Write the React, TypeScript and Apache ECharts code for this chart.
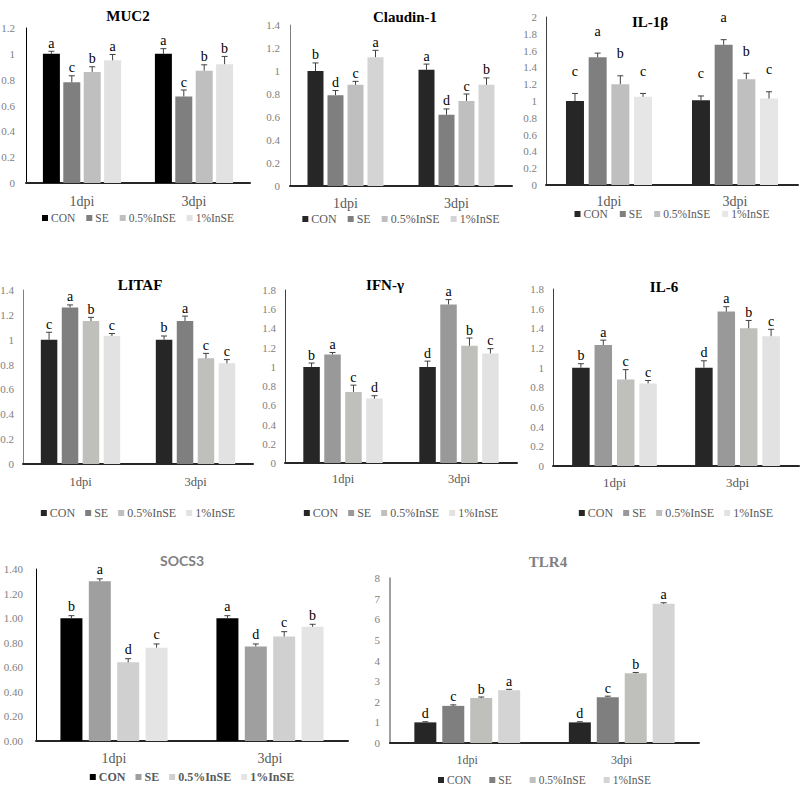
import React, { useEffect, useRef } from 'react';
import * as echarts from 'echarts';

// ---------- data ----------
const categories = ['1dpi', '3dpi'];
const groups = ['CON', 'SE', '0.5%InSE', '1%InSE'];

// each row = one group, columns = [1dpi, 3dpi]
const muc2Means = [[1.0, 1.0], [0.78, 0.67], [0.86, 0.87], [0.95, 0.92]];
const muc2Errors = [[0.02, 0.04], [0.05, 0.05], [0.04, 0.045], [0.045, 0.06]];
const muc2Letters = [['a', 'a'], ['c', 'c'], ['b', 'b'], ['a', 'b']];

const claudinMeans = [[1.0, 1.01], [0.79, 0.62], [0.88, 0.74], [1.12, 0.88]];
const claudinErrors = [[0.07, 0.05], [0.04, 0.05], [0.03, 0.06], [0.06, 0.06]];
const claudinLetters = [['b', 'a'], ['d', 'd'], ['c', 'c'], ['a', 'b']];

const il1bMeans = [[1.0, 1.01], [1.52, 1.67], [1.2, 1.26], [1.05, 1.03]];
const il1bErrors = [[0.09, 0.05], [0.05, 0.06], [0.1, 0.07], [0.04, 0.08]];
const il1bLetters = [['c', 'c'], ['a', 'a'], ['b', 'b'], ['c', 'c']];

const litafMeans = [[1.0, 1.0], [1.26, 1.15], [1.15, 0.85], [1.03, 0.81]];
const litafErrors = [[0.06, 0.03], [0.02, 0.04], [0.03, 0.04], [0.02, 0.03]];
const litafLetters = [['c', 'b'], ['a', 'a'], ['b', 'c'], ['c', 'c']];

const ifngMeans = [[1.0, 1.0], [1.13, 1.65], [0.74, 1.22], [0.67, 1.14]];
const ifngErrors = [[0.04, 0.06], [0.02, 0.05], [0.07, 0.08], [0.03, 0.05]];
const ifngLetters = [['b', 'd'], ['a', 'a'], ['c', 'b'], ['d', 'c']];

const il6Means = [[1.0, 1.0], [1.23, 1.57], [0.88, 1.4], [0.84, 1.32]];
const il6Errors = [[0.04, 0.07], [0.05, 0.05], [0.1, 0.08], [0.03, 0.07]];
const il6Letters = [['b', 'd'], ['a', 'a'], ['c', 'b'], ['c', 'c']];

const socs3Means = [[1.0, 1.0], [1.3, 0.77], [0.64, 0.85], [0.76, 0.93]];
const socs3Errors = [[0.02, 0.02], [0.02, 0.02], [0.03, 0.04], [0.03, 0.02]];
const socs3Letters = [['b', 'a'], ['a', 'd'], ['d', 'c'], ['c', 'b']];

const tlr4Means = [[1.0, 1.0], [1.8, 2.22], [2.18, 3.38], [2.56, 6.75]];
const tlr4Errors = [[0.03, 0.03], [0.05, 0.05], [0.05, 0.04], [0.04, 0.05]];
const tlr4Letters = [['d', 'd'], ['c', 'c'], ['b', 'b'], ['a', 'a']];

// ---------- layout / style ----------
const SERIF = 'Liberation Serif';
const SANS = 'Lato';

type Panel = {
  title: string;
  means: number[][];
  errors: number[][];
  letters: string[][];
  colors: string[];
  yMax: number;
  yInterval: number;
  decimals?: number;
  // absolute page coordinates
  gx: number; gy: number; gw: number; gh: number;
  titleX: number; titleY: number;
  legendY: number;
  titleColor: string;
  titleFont: string;
  titleSize: number;
  barWidth: number;
  barGap: number;
  letterGap: number;
  catMargin: number;
  catSize: number;
  legendSize: number;
  legendGap: number;
  legendBold?: boolean;
  yLabelMargin: number;
  yAxisColor: string;
  yAxisWidth: number;
};

const panels: Panel[] = [
  {
    title: 'MUC2', means: muc2Means, errors: muc2Errors, letters: muc2Letters,
    colors: ['#000000', '#7f7f7f', '#bfbfbf', '#e2e2e2'],
    yMax: 1.2, yInterval: 0.2,
    gx: 26, gy: 28, gw: 224, gh: 155, titleX: 128, titleY: 17, legendY: 212,
    titleColor: '#000', titleFont: SERIF, titleSize: 15,
    barWidth: 17, barGap: 0.2, letterGap: 1, catMargin: 11, catSize: 14,
    legendSize: 11.5, legendGap: 11, yLabelMargin: 11, yAxisColor: '#000', yAxisWidth: 1,
  },
  {
    title: 'Claudin-1', means: claudinMeans, errors: claudinErrors, letters: claudinLetters,
    colors: ['#262626', '#7f7f7f', '#bfbfbf', '#d4d4d4'],
    yMax: 1.4, yInterval: 0.2,
    gx: 290, gy: 25, gw: 222, gh: 161, titleX: 405, titleY: 18, legendY: 213,
    titleColor: '#000', titleFont: SERIF, titleSize: 15,
    barWidth: 16, barGap: 0.25, letterGap: 1, catMargin: 10, catSize: 14,
    legendSize: 12, legendGap: 11, yLabelMargin: 10, yAxisColor: '#808080', yAxisWidth: 1,
  },
  {
    title: 'IL-1β', means: il1bMeans, errors: il1bErrors, letters: il1bLetters,
    colors: ['#262626', '#7f7f7f', '#bfbfbf', '#e6e6e6'],
    yMax: 2, yInterval: 0.2,
    gx: 546, gy: 17, gw: 252, gh: 168, titleX: 650, titleY: 23, legendY: 208,
    titleColor: '#000', titleFont: SERIF, titleSize: 15,
    barWidth: 18, barGap: 0.26, letterGap: 15, catMargin: 9, catSize: 14,
    legendSize: 11.5, legendGap: 12, yLabelMargin: 9, yAxisColor: '#404040', yAxisWidth: 1,
  },
  {
    title: 'LITAF', means: litafMeans, errors: litafErrors, letters: litafLetters,
    colors: ['#262626', '#7f7f7f', '#bfbfbc', '#e2e2e2'],
    yMax: 1.4, yInterval: 0.2,
    gx: 23, gy: 290, gw: 230, gh: 174, titleX: 140, titleY: 286, legendY: 507,
    titleColor: '#000', titleFont: SERIF, titleSize: 15,
    barWidth: 16.5, barGap: 0.27, letterGap: 1, catMargin: 11, catSize: 12.5,
    legendSize: 12, legendGap: 10, yLabelMargin: 9, yAxisColor: '#808080', yAxisWidth: 1,
  },
  {
    title: 'IFN-γ', means: ifngMeans, errors: ifngErrors, letters: ifngLetters,
    colors: ['#262626', '#999999', '#bfbfbc', '#e2e2e2'],
    yMax: 1.8, yInterval: 0.2,
    gx: 285, gy: 290, gw: 232, gh: 173, titleX: 385, titleY: 286, legendY: 507,
    titleColor: '#000', titleFont: SERIF, titleSize: 15,
    barWidth: 16.5, barGap: 0.27, letterGap: 1, catMargin: 9, catSize: 12.5,
    legendSize: 12, legendGap: 10, yLabelMargin: 9, yAxisColor: '#404040', yAxisWidth: 1,
  },
  {
    title: 'IL-6', means: il6Means, errors: il6Errors, letters: il6Letters,
    colors: ['#262626', '#999999', '#bfbfbc', '#e2e2e2'],
    yMax: 1.8, yInterval: 0.2,
    gx: 553, gy: 289, gw: 246, gh: 177, titleX: 664, titleY: 288, legendY: 507,
    titleColor: '#000', titleFont: SERIF, titleSize: 15,
    barWidth: 17.5, barGap: 0.28, letterGap: 1, catMargin: 10, catSize: 13,
    legendSize: 12, legendGap: 10, yLabelMargin: 9, yAxisColor: '#404040', yAxisWidth: 1,
  },
  {
    title: 'SOCS3', means: socs3Means, errors: socs3Errors, letters: socs3Letters,
    colors: ['#000000', '#9f9f9f', '#d0d0d0', '#e4e4e4'],
    yMax: 1.4, yInterval: 0.2, decimals: 2,
    gx: 36, gy: 569, gw: 312, gh: 172, titleX: 182, titleY: 562, legendY: 771,
    titleColor: '#7f7f7f', titleFont: SANS, titleSize: 14,
    barWidth: 22, barGap: 0.29, letterGap: 2, catMargin: 10, catSize: 14,
    legendSize: 12, legendGap: 10, legendBold: true, yLabelMargin: 13, yAxisColor: '#000', yAxisWidth: 1,
  },
  {
    title: 'TLR4', means: tlr4Means, errors: tlr4Errors, letters: tlr4Letters,
    colors: ['#262626', '#7f7f7f', '#bfbfbc', '#d4d4d4'],
    yMax: 8, yInterval: 1,
    gx: 390, gy: 578, gw: 309, gh: 165, titleX: 548, titleY: 563, legendY: 774,
    titleColor: '#7f7f7f', titleFont: SERIF, titleSize: 15,
    barWidth: 22, barGap: 0.27, letterGap: 1, catMargin: 11, catSize: 12,
    legendSize: 11.5, legendGap: 18, yLabelMargin: 10, yAxisColor: '#808080', yAxisWidth: 1.5,
  },
];

const PAD_X = 60; // room for y labels to the left of the plot
const PAD_TOP = 45;
const BOX_H = 300;

function boxOf(p: Panel) {
  const x = p.gx - PAD_X;
  const w = p.gw + 2 * PAD_X; // symmetric around grid center => legend 'center' is grid-centered
  const y = p.gy - PAD_TOP;
  return { x, y, w, h: BOX_H };
}

function buildOption(p: Panel): any {
  const b = boxOf(p);
  const pitch = p.barWidth * (1 + p.barGap);
  const barSeries = groups.map((g, gi) => ({
    name: g,
    type: 'bar',
    data: p.means[gi],
    barWidth: p.barWidth,
    barGap: `${Math.round(p.barGap * 100)}%`,
    itemStyle: { color: p.colors[gi] },
    z: 2,
  }));
  const errData: number[][] = [];
  const errLetters: string[] = [];
  groups.forEach((_, gi) => {
    categories.forEach((__, ci) => {
      errData.push([ci, gi, p.means[gi][ci], p.errors[gi][ci]]);
      errLetters.push(p.letters[gi][ci]);
    });
  });
  const errSeries = {
    type: 'custom',
    name: 'err',
    data: errData,
    encode: { x: 0, y: 2 },
    z: 5,
    silent: true,
    itemStyle: { color: '#000' },
    renderItem: (params: any, api: any) => {
      const c = api.value(0);
      const g = api.value(1);
      const m = api.value(2);
      const e = api.value(3);
      const x = api.coord([c, 0])[0] + (g - 1.5) * pitch;
      const yM = api.coord([c, m])[1];
      const yT = api.coord([c, m + e])[1];
      return {
        type: 'group',
        children: [
          { type: 'line', shape: { x1: x, y1: yM, x2: x, y2: yT }, style: { stroke: '#404040', lineWidth: 1 } },
          { type: 'line', shape: { x1: x - 3, y1: yT, x2: x + 3, y2: yT }, style: { stroke: '#404040', lineWidth: 1 } },
          {
            type: 'text', x, y: yT - p.letterGap,
            style: {
              text: errLetters[params.dataIndex], fill: '#000000',
              fontFamily: SERIF, fontSize: 14, align: 'center', verticalAlign: 'bottom',
            },
          },
        ],
      };
    },
  };
  return {
    animation: false,
    title: {
      text: p.title,
      left: p.titleX - b.x,
      top: p.titleY - b.y - p.titleSize * 0.6,
      textAlign: 'center',
      padding: 0,
      textStyle: { fontFamily: p.titleFont, fontSize: p.titleSize, fontWeight: 'bold', color: p.titleColor },
    },
    legend: {
      data: groups,
      left: 'center',
      top: p.legendY - b.y,
      padding: 0,
      itemWidth: 6,
      itemHeight: 6,
      itemGap: p.legendGap,
      icon: 'rect',
      selectedMode: false,
      textStyle: {
        fontFamily: SERIF, fontSize: p.legendSize, color: '#595959',
        fontWeight: p.legendBold ? 'bold' : 'normal', padding: [0, 0, 0, -2],
      },
    },
    grid: { left: PAD_X, top: PAD_TOP, width: p.gw, height: p.gh },
    xAxis: {
      type: 'category',
      data: categories,
      axisLine: { lineStyle: { color: '#262626', width: 2 } },
      axisTick: { show: false },
      axisLabel: { color: '#595959', fontFamily: SERIF, fontSize: p.catSize, margin: p.catMargin },
    },
    yAxis: {
      type: 'value',
      min: 0,
      max: p.yMax,
      interval: p.yInterval,
      axisLine: { show: true, lineStyle: { color: p.yAxisColor, width: p.yAxisWidth } },
      axisTick: { show: false },
      splitLine: { show: false },
      axisLabel: {
        color: '#808080', fontFamily: SERIF, fontSize: 11, margin: p.yLabelMargin,
        formatter: (v: number) => (p.decimals ? v.toFixed(p.decimals) : String(Math.round(v * 100) / 100)),
      },
    },
    series: [...barSeries, errSeries],
  };
}

function ChartPanel({ panel }: { panel: Panel }) {
  const ref = useRef<HTMLDivElement>(null);
  useEffect(() => {
    if (!ref.current) return;
    const chart = echarts.init(ref.current, undefined, { renderer: 'svg' });
    chart.setOption(buildOption(panel));
    return () => chart.dispose();
  }, [panel]);
  const b = boxOf(panel);
  return (
    <div
      ref={ref}
      style={{ position: 'absolute', left: b.x, top: b.y, width: b.w, height: b.h }}
    />
  );
}

export default function App() {
  return (
    <div style={{ position: 'absolute', left: 0, top: 0, width: 800, height: 789, background: '#fff', overflow: 'hidden' }}>
      {panels.map((p) => (
        <ChartPanel key={p.title} panel={p} />
      ))}
    </div>
  );
}
